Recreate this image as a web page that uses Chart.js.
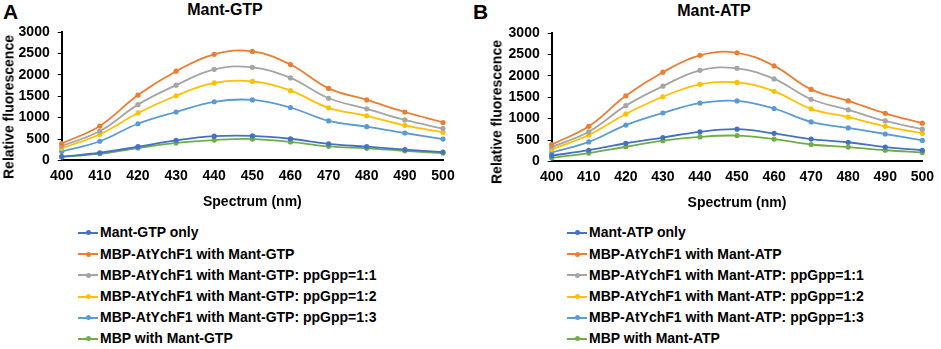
<!DOCTYPE html>
<html>
<head>
<meta charset="utf-8">
<script src="https://cdn.jsdelivr.net/npm/chart.js@4"></script>
<style>
  html, body { margin:0; padding:0; background:#fff; }
  body { width:941px; height:349px; position:relative; overflow:hidden; font-family:"Liberation Sans", Arial, sans-serif; }
  .abs { position:absolute; }
  .letter { font-weight:bold; font-size:21px; line-height:24px; color:#000; }
  .ptitle { font-weight:bold; font-size:16px; line-height:19px; color:#000; transform:translateX(-50%); white-space:nowrap; }
  .ytitle { font-weight:bold; font-size:14px; line-height:17px; color:#000; white-space:nowrap; transform:translate(-50%,-50%) rotate(-90deg); }
  .legend { font-weight:bold; font-size:14px; color:#000; }
  .legend .row { height:21.2px; line-height:21.2px; white-space:nowrap; position:relative; }
  .legend .mk { display:inline-block; position:relative; width:20px; height:21.2px; vertical-align:top; margin-right:2px; }
  .legend .mk .ln { position:absolute; left:0; right:0; top:9.6px; height:2px; }
  .legend .mk .dt { position:absolute; left:7.5px; top:8.1px; width:5px; height:5px; border-radius:50%; }
</style>
</head>
<body>
<div class="abs letter" style="left:3px;top:0px;">A</div>
<div class="abs letter" style="left:473px;top:0px;">B</div>
<div class="abs ptitle" id="titleA" style="left:225px;top:0px;"></div>
<div class="abs ptitle" id="titleB" style="left:714px;top:1px;"></div>
<canvas id="cA" class="abs" width="470" height="215" style="left:0;top:0;"></canvas>
<canvas id="cB" class="abs" width="471" height="215" style="left:470px;top:0;"></canvas>
<div class="abs ytitle" id="ytA" style="left:8.6px;top:107.4px;"></div>
<div class="abs ytitle" id="ytB" style="left:496.8px;top:111.5px;"></div>
<div class="abs legend" id="legA" style="left:78px;top:222.4px;"></div>
<div class="abs legend" id="legB" style="left:567px;top:222.4px;"></div>
<script>
// ---- data ----
const wavelengths = [400, 410, 420, 430, 440, 450, 460, 470, 480, 490, 500];
const yTicks = [0, 500, 1000, 1500, 2000, 2500, 3000];

const titleA = "Mant-GTP";
const seriesNamesA = [
  "Mant-GTP only",
  "MBP-AtYchF1 with Mant-GTP",
  "MBP-AtYchF1 with Mant-GTP: ppGpp=1:1",
  "MBP-AtYchF1 with Mant-GTP: ppGpp=1:2",
  "MBP-AtYchF1 with Mant-GTP: ppGpp=1:3",
  "MBP with Mant-GTP"
];
const gtpOnly   = [89, 179, 320, 469, 566, 573, 506, 387, 320, 253, 194];
const gtpYchF1  = [395, 804, 1526, 2084, 2479, 2546, 2240, 1682, 1414, 1131, 886];
const gtpPp11   = [335, 685, 1303, 1757, 2129, 2174, 1928, 1452, 1206, 945, 744];
const gtpPp12   = [283, 610, 1109, 1511, 1809, 1846, 1630, 1228, 1042, 819, 655];
const gtpPp13   = [208, 447, 856, 1131, 1370, 1414, 1236, 923, 789, 640, 499];
const gtpMBP    = [82, 156, 290, 409, 476, 499, 432, 328, 283, 223, 171];

const titleB = "Mant-ATP";
const seriesNamesB = [
  "Mant-ATP only",
  "MBP-AtYchF1 with Mant-ATP",
  "MBP-AtYchF1 with Mant-ATP: ppGpp=1:1",
  "MBP-AtYchF1 with Mant-ATP: ppGpp=1:2",
  "MBP-AtYchF1 with Mant-ATP: ppGpp=1:3",
  "MBP with Mant-ATP"
];
const atpOnly   = [134, 261, 424, 558, 692, 752, 655, 521, 447, 335, 261];
const atpYchF1  = [395, 819, 1533, 2084, 2479, 2538, 2233, 1682, 1414, 1124, 893];
const atpPp11   = [335, 692, 1303, 1757, 2129, 2174, 1928, 1452, 1206, 945, 752];
const atpPp12   = [283, 618, 1109, 1511, 1801, 1846, 1638, 1228, 1035, 819, 655];
const atpPp13   = [208, 454, 849, 1131, 1362, 1414, 1236, 923, 782, 640, 491];
const atpMBP    = [82, 194, 342, 484, 573, 603, 521, 395, 335, 261, 208];

const colors = ["#4472C4", "#ED7D31", "#A5A5A5", "#FFC000", "#5B9BD5", "#70AD47"];
const xTitle = "Spectrum (nm)";
const yTitle = "Relative fluorescence";

// ---- build ----
const FONT = '"Liberation Sans", Arial, sans-serif';
Chart.defaults.font.family = FONT;
Chart.defaults.color = '#000';

function makeDatasets(names, arrays) {
  return names.map((n, i) => ({
    label: n,
    data: arrays[i],
    borderColor: colors[i],
    backgroundColor: colors[i],
    borderWidth: 1.8,
    pointRadius: 2.6,
    pointBorderWidth: 0,
    pointBackgroundColor: colors[i],
    tension: 0.4,
    fill: false
  }));
}

function makeChart(id, names, arrays, pad, yWidth) {
  return new Chart(document.getElementById(id), {
    type: 'line',
    data: { labels: wavelengths, datasets: makeDatasets(names, arrays) },
    options: {
      responsive: false,
      animation: false,
      devicePixelRatio: 1,
      layout: { padding: pad },
      plugins: { legend: { display: false }, tooltip: { enabled: false }, title: { display: false } },
      scales: {
        x: {
          type: 'category',
          offset: false,
          grid: { display: false, drawTicks: false },
          border: { display: true, color: '#000', width: 2 },
          ticks: { font: { size: 14, weight: 'bold' }, padding: 7, maxRotation: 0, autoSkip: false },
          title: { display: true, text: xTitle, font: { size: 14, weight: 'bold' }, padding: { top: 3, bottom: 0 } }
        },
        y: {
          min: 0, max: 3000,
          afterBuildTicks: (s) => { s.ticks = yTicks.map(v => ({ value: v })); },
          afterFit: (s) => { s.width = yWidth; },
          grid: { display: true, drawOnChartArea: false, drawTicks: true, tickLength: 4, color: '#000', lineWidth: 1 },
          border: { display: true, color: '#000', width: 2 },
          ticks: { font: { size: 14, weight: 'bold' }, padding: 8, callback: (v) => String(v) },
          title: { display: false }
        }
      }
    }
  });
}

document.getElementById('titleA').textContent = titleA;
document.getElementById('titleB').textContent = titleB;
document.getElementById('ytA').textContent = yTitle;
document.getElementById('ytB').textContent = yTitle;

const chartA = makeChart('cA', seriesNamesA, [gtpOnly, gtpYchF1, gtpPp11, gtpPp12, gtpPp13, gtpMBP],
  { left: 0, top: 32, right: 27, bottom: 4 }, 61.7);
const chartB = makeChart('cB', seriesNamesB, [atpOnly, atpYchF1, atpPp11, atpPp12, atpPp13, atpMBP],
  { left: 0, top: 33, right: 13, bottom: 3 }, 81.7);

function buildLegend(chart, elId) {
  const el = document.getElementById(elId);
  chart.data.datasets.forEach(ds => {
    const row = document.createElement('div');
    row.className = 'row';
    const mk = document.createElement('span');
    mk.className = 'mk';
    const ln = document.createElement('span'); ln.className = 'ln'; ln.style.background = ds.borderColor;
    const dt = document.createElement('span'); dt.className = 'dt'; dt.style.background = ds.borderColor;
    mk.appendChild(ln); mk.appendChild(dt);
    const tx = document.createElement('span');
    tx.textContent = ds.label;
    row.appendChild(mk); row.appendChild(tx);
    el.appendChild(row);
  });
}
buildLegend(chartA, 'legA');
buildLegend(chartB, 'legB');
</script>
</body>
</html>
